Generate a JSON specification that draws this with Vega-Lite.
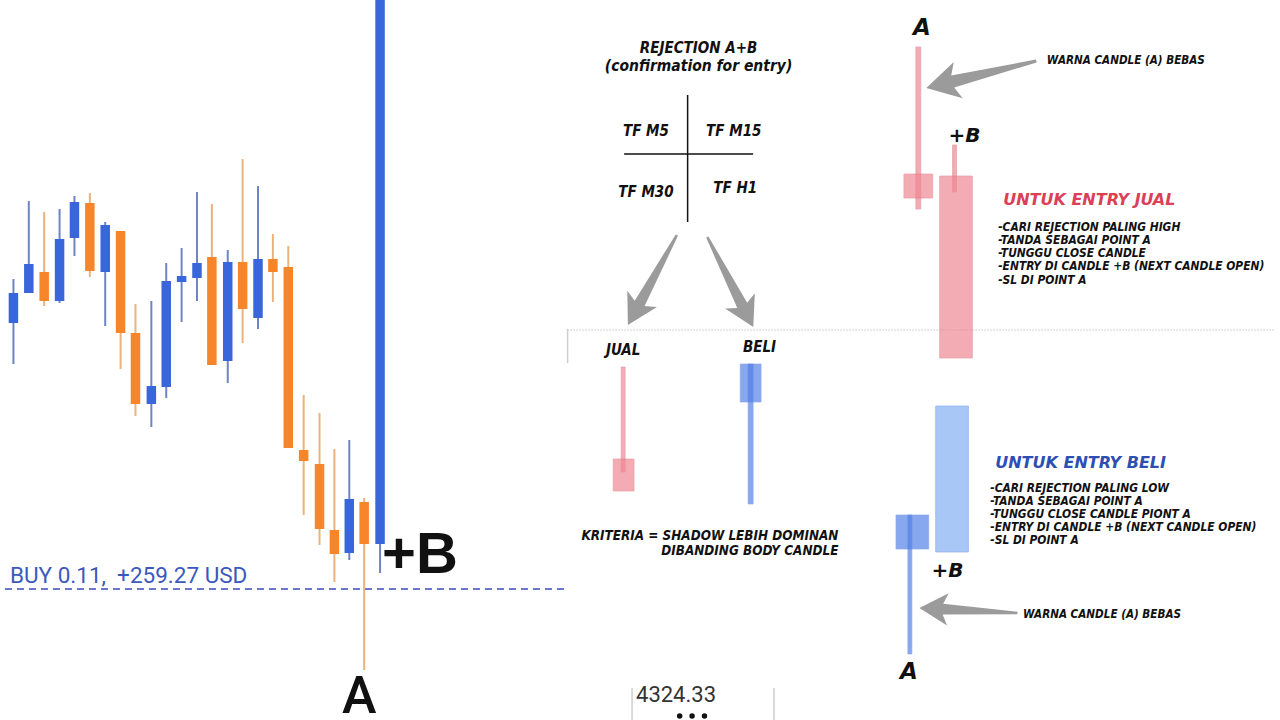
{
  "$schema": "https://vega.github.io/schema/vega-lite/v6.json",
  "width": 1280,
  "height": 720,
  "autosize": "none",
  "padding": 0,
  "background": "white",
  "config": {"view": {"stroke": null}},
  "datasets": {
    "candles": [
      {"i": 1, "x": 8.5, "o": 323, "c": 293, "h": 279, "l": 364, "dir": "up"},
      {"i": 2, "x": 24, "o": 293, "c": 264, "h": 201, "l": 293, "dir": "up"},
      {"i": 3, "x": 39.5, "o": 272, "c": 301, "h": 212, "l": 306, "dir": "down"},
      {"i": 4, "x": 55, "o": 301, "c": 239, "h": 209, "l": 303, "dir": "up"},
      {"i": 5, "x": 70, "o": 238, "c": 202, "h": 196, "l": 256, "dir": "up"},
      {"i": 6, "x": 85.5, "o": 203, "c": 271, "h": 193, "l": 277, "dir": "down"},
      {"i": 7, "x": 101, "o": 272, "c": 225, "h": 222, "l": 326, "dir": "up"},
      {"i": 8, "x": 116.5, "o": 231, "c": 333, "h": 231, "l": 369, "dir": "down"},
      {"i": 9, "x": 131.5, "o": 333, "c": 404, "h": 304, "l": 416, "dir": "down"},
      {"i": 10, "x": 147.5, "o": 404, "c": 386, "h": 301, "l": 427, "dir": "up"},
      {"i": 11, "x": 162.5, "o": 387, "c": 281, "h": 263, "l": 398, "dir": "up"},
      {"i": 12, "x": 178, "o": 282, "c": 276, "h": 248, "l": 322, "dir": "up"},
      {"i": 13, "x": 193.5, "o": 278, "c": 263, "h": 192, "l": 301, "dir": "up"},
      {"i": 14, "x": 208.5, "o": 257, "c": 365, "h": 204, "l": 365, "dir": "down"},
      {"i": 15, "x": 224.5, "o": 361, "c": 262, "h": 250, "l": 383, "dir": "up"},
      {"i": 16, "x": 239.5, "o": 262, "c": 309, "h": 159, "l": 343, "dir": "down"},
      {"i": 17, "x": 255, "o": 318, "c": 259, "h": 186, "l": 329, "dir": "up"},
      {"i": 18, "x": 270, "o": 259, "c": 272, "h": 234, "l": 302, "dir": "down"},
      {"i": 19, "x": 285.5, "o": 267, "c": 448, "h": 246, "l": 448, "dir": "down"},
      {"i": 20, "x": 301, "o": 450, "c": 461, "h": 395, "l": 515, "dir": "down"},
      {"i": 21, "x": 317, "o": 464, "c": 529, "h": 413, "l": 545, "dir": "down"},
      {"i": 22, "x": 332, "o": 530, "c": 554, "h": 449, "l": 582, "dir": "down"},
      {"i": 23, "x": 347, "o": 553, "c": 499, "h": 440, "l": 560, "dir": "up"},
      {"i": 24, "x": 362, "o": 502, "c": 544, "h": 498, "l": 670, "dir": "down"},
      {"i": 25, "x": 378, "o": 544, "c": -5, "h": -5, "l": 573, "dir": "up"}
    ],
    "boxes": [
      {"part": "A jual wick", "kind": "pink", "x": 918, "x2": 923, "y": 47, "y2": 209},
      {"part": "A jual body", "kind": "pink", "x": 906, "x2": 935, "y": 174, "y2": 198},
      {"part": "B jual wick", "kind": "pink", "x": 955, "x2": 959, "y": 145, "y2": 192},
      {"part": "B jual body", "kind": "pink", "x": 942, "x2": 975, "y": 176, "y2": 358},
      {"part": "JUAL wick", "kind": "pink", "x": 621, "x2": 625, "y": 367, "y2": 472},
      {"part": "JUAL body", "kind": "pink", "x": 613, "x2": 634, "y": 459, "y2": 491},
      {"part": "BELI body", "kind": "blue", "x": 741, "x2": 762, "y": 364, "y2": 402},
      {"part": "BELI wick", "kind": "blue", "x": 749, "x2": 754, "y": 364, "y2": 504},
      {"part": "B beli body", "kind": "light", "x": 938, "x2": 971, "y": 406, "y2": 552},
      {"part": "A beli body", "kind": "blue", "x": 898, "x2": 931, "y": 515, "y2": 549},
      {"part": "A beli wick", "kind": "blue", "x": 910, "x2": 914, "y": 515, "y2": 654}
    ],
    "arrows": [
      {"a": "to JUAL", "x1": 677, "y1": 235, "x2": 628, "y2": 325},
      {"a": "to BELI", "x1": 708, "y1": 237, "x2": 754, "y2": 327},
      {"a": "warna top", "x1": 1039, "y1": 61, "x2": 929, "y2": 88},
      {"a": "warna bottom", "x1": 1020, "y1": 613, "x2": 922, "y2": 608}
    ],
    "lines": [
      {"l": "cross v", "kind": "black", "x": 688, "x2": 688, "y": 95, "y2": 222},
      {"l": "cross h", "kind": "black", "x": 624, "x2": 754, "y": 154, "y2": 154},
      {"l": "sep v", "kind": "grey", "x": 567, "x2": 567, "y": 329, "y2": 363},
      {"l": "bottom a", "kind": "grey", "x": 632, "x2": 632, "y": 688, "y2": 720},
      {"l": "bottom b", "kind": "grey", "x": 775, "x2": 775, "y": 688, "y2": 720}
    ]
  },
  "layer": [
    {
      "data": {"values": [{"x": 0, "x2": 567, "y": 589}]},
      "mark": {"type": "rule", "color": "#3a4cc2", "strokeWidth": 1.6, "strokeDash": [7, 5]},
      "encoding": {
        "x": {"field": "x", "type": "quantitative", "axis": null, "scale": {"domain": [0, 1280], "nice": false, "zero": false}},
        "x2": {"field": "x2"},
        "y": {"field": "y", "type": "quantitative", "axis": null, "scale": {"domain": [0, 720], "reverse": true, "nice": false, "zero": false}}
      }
    },
    {
      "data": {"values": [{"x": 567, "x2": 1280, "y": 330}]},
      "mark": {"type": "rule", "color": "#a8a8a8", "strokeWidth": 1, "strokeDash": [1, 2]},
      "encoding": {
        "x": {"field": "x", "type": "quantitative", "axis": null},
        "x2": {"field": "x2"},
        "y": {"field": "y", "type": "quantitative", "axis": null}
      }
    },
    {
      "data": {"name": "lines"},
      "mark": {"type": "rule", "strokeWidth": 1.5},
      "encoding": {
        "x": {"field": "x", "type": "quantitative", "axis": null},
        "x2": {"field": "x2"},
        "y": {"field": "y", "type": "quantitative", "axis": null},
        "y2": {"field": "y2"},
        "color": {"condition": {"test": "datum.kind === 'black'", "value": "#111111"}, "value": "#cfcfcf"}
      }
    },
    {
      "data": {"name": "candles"},
      "mark": {"type": "rule", "strokeWidth": 2, "clip": true},
      "encoding": {
        "x": {"field": "x", "type": "quantitative", "axis": null},
        "y": {"field": "h", "type": "quantitative", "axis": null},
        "y2": {"field": "l"},
        "color": {"condition": {"test": "datum.dir === 'up'", "value": "#6f84c4"}, "value": "#ebb27c"}
      }
    },
    {
      "data": {"name": "candles"},
      "mark": {"type": "bar", "width": 9.5, "clip": true},
      "encoding": {
        "x": {"field": "x", "type": "quantitative", "axis": null},
        "y": {"field": "o", "type": "quantitative", "axis": null},
        "y2": {"field": "c"},
        "color": {"condition": {"test": "datum.dir === 'up'", "value": "#3a66db"}, "value": "#f7862a"}
      }
    },
    {
      "data": {"name": "boxes"},
      "mark": {"type": "rect", "strokeWidth": 0.7},
      "encoding": {
        "x": {"field": "x", "type": "quantitative", "axis": null},
        "x2": {"field": "x2"},
        "y": {"field": "y", "type": "quantitative", "axis": null},
        "y2": {"field": "y2"},
        "fill": {"condition": [{"test": "datum.kind === 'pink'", "value": "#ef8591"}, {"test": "datum.kind === 'blue'", "value": "#4f7ee6"}], "value": "#a8c6f6"},
        "stroke": {"condition": [{"test": "datum.kind === 'pink'", "value": "#e07080"}, {"test": "datum.kind === 'blue'", "value": "#5a82e0"}], "value": "#8fb0ee"},
        "opacity": {"condition": {"test": "datum.kind === 'light'", "value": 1}, "value": 0.68}
      }
    },
    {
      "data": {"name": "arrows"},
      "transform": [
        {"calculate": "(datum.x1 + datum.x2) / 2", "as": "mx"},
        {"calculate": "(datum.y1 + datum.y2) / 2", "as": "my"},
        {"calculate": "atan2(datum.y2 - datum.y1, datum.x2 - datum.x1) * 180 / PI", "as": "ang"},
        {"calculate": "pow(datum.x2 - datum.x1, 2) + pow(datum.y2 - datum.y1, 2)", "as": "sz"}
      ],
      "mark": {"type": "point", "shape": "M -1 -0.025 L 0.52 -0.11 L 0.42 -0.33 L 1 0 L 0.42 0.33 L 0.52 0.11 L -1 0.025 Z", "filled": true, "color": "#9b9b9b", "opacity": 1, "strokeWidth": 0},
      "encoding": {
        "x": {"field": "mx", "type": "quantitative", "axis": null},
        "y": {"field": "my", "type": "quantitative", "axis": null},
        "angle": {"field": "ang", "type": "quantitative", "scale": null},
        "size": {"field": "sz", "type": "quantitative", "scale": null, "legend": null}
      }
    },
    {
      "data": {"values": [{"d": 1, "x": 680, "y": 716}, {"d": 2, "x": 692.5, "y": 716}, {"d": 3, "x": 705, "y": 716}]},
      "mark": {"type": "point", "shape": "circle", "filled": true, "color": "#111111", "opacity": 1, "size": 30},
      "encoding": {
        "x": {"field": "x", "type": "quantitative", "axis": null},
        "y": {"field": "y", "type": "quantitative", "axis": null}
      }
    },
    {
      "data": {"values": [{"t": "BUY 0.11,\u00a0 +259.27 USD", "x": 5, "y": 583}]},
      "mark": {"type": "text", "font": "Roboto", "fontSize": 22.5, "color": "#3b58bd", "align": "left", "baseline": "alphabetic"},
      "encoding": {
        "x": {"field": "x", "type": "quantitative", "axis": null},
        "y": {"field": "y", "type": "quantitative", "axis": null},
        "text": {"field": "t"}
      }
    },
    {
      "data": {"values": [{"t": "+B", "x": 380, "y": 573}]},
      "mark": {"type": "text", "font": "Liberation Sans", "fontWeight": "bold", "fontSize": 58, "color": "#111111", "align": "left", "baseline": "alphabetic"},
      "encoding": {
        "x": {"field": "x", "type": "quantitative", "axis": null},
        "y": {"field": "y", "type": "quantitative", "axis": null},
        "text": {"field": "t"}
      }
    },
    {
      "data": {"values": [{"t": "A", "x": 357, "y": 713}]},
      "mark": {"type": "text", "font": "Roboto", "fontWeight": 500, "fontSize": 52, "color": "#111111", "align": "center", "baseline": "alphabetic"},
      "encoding": {
        "x": {"field": "x", "type": "quantitative", "axis": null},
        "y": {"field": "y", "type": "quantitative", "axis": null},
        "text": {"field": "t"}
      }
    },
    {
      "data": {"values": [
        {"t": "REJECTION A+B", "x": 699, "y": 53},
        {"t": "TF M5", "x": 646, "y": 136},
        {"t": "TF M15", "x": 734.5, "y": 136},
        {"t": "TF M30", "x": 646, "y": 197},
        {"t": "TF H1", "x": 736, "y": 193},
        {"t": "JUAL", "x": 623, "y": 355},
        {"t": "BELI", "x": 760.5, "y": 352}
      ]},
      "mark": {"type": "text", "font": "DejaVu Sans Condensed", "fontWeight": "bold", "fontStyle": "italic", "fontSize": 15, "color": "#111111", "align": "center", "baseline": "alphabetic"},
      "encoding": {
        "x": {"field": "x", "type": "quantitative", "axis": null},
        "y": {"field": "y", "type": "quantitative", "axis": null},
        "text": {"field": "t"}
      }
    },
    {
      "data": {"values": [{"t": "(confirmation for entry)", "x": 699, "y": 71}]},
      "mark": {"type": "text", "font": "DejaVu Sans Condensed", "fontWeight": "bold", "fontStyle": "italic", "fontSize": 15.5, "color": "#111111", "align": "center", "baseline": "alphabetic"},
      "encoding": {
        "x": {"field": "x", "type": "quantitative", "axis": null},
        "y": {"field": "y", "type": "quantitative", "axis": null},
        "text": {"field": "t"}
      }
    },
    {
      "data": {"values": [
        {"t": "A", "x": 924, "y": 35},
        {"t": "A", "x": 911, "y": 679}
      ]},
      "mark": {"type": "text", "font": "DejaVu Sans", "fontWeight": "bold", "fontStyle": "italic", "fontSize": 23, "color": "#111111", "align": "center", "baseline": "alphabetic"},
      "encoding": {
        "x": {"field": "x", "type": "quantitative", "axis": null},
        "y": {"field": "y", "type": "quantitative", "axis": null},
        "text": {"field": "t"}
      }
    },
    {
      "data": {"values": [
        {"t": "+B", "x": 967, "y": 142},
        {"t": "+B", "x": 950, "y": 577}
      ]},
      "mark": {"type": "text", "font": "DejaVu Sans", "fontWeight": "bold", "fontStyle": "italic", "fontSize": 20, "color": "#111111", "align": "center", "baseline": "alphabetic"},
      "encoding": {
        "x": {"field": "x", "type": "quantitative", "axis": null},
        "y": {"field": "y", "type": "quantitative", "axis": null},
        "text": {"field": "t"}
      }
    },
    {
      "data": {"values": [
        {"t": "UNTUK ENTRY JUAL", "side": "jual", "x": 1006, "y": 205},
        {"t": "UNTUK ENTRY BELI", "side": "beli", "x": 998, "y": 468}
      ]},
      "mark": {"type": "text", "font": "DejaVu Sans", "fontWeight": "bold", "fontStyle": "italic", "fontSize": 16, "align": "left", "baseline": "alphabetic"},
      "encoding": {
        "x": {"field": "x", "type": "quantitative", "axis": null},
        "y": {"field": "y", "type": "quantitative", "axis": null},
        "text": {"field": "t"},
        "color": {"condition": {"test": "datum.side === 'jual'", "value": "#dc3f56"}, "value": "#2d4fb3"}
      }
    },
    {
      "data": {"values": [
        {"t": "-CARI REJECTION PALING HIGH", "x": 1001, "y": 231},
        {"t": "-TANDA SEBAGAI POINT A", "x": 1001, "y": 244},
        {"t": "-TUNGGU CLOSE CANDLE", "x": 1001, "y": 257},
        {"t": "-ENTRY DI CANDLE +B (NEXT CANDLE OPEN)", "x": 1001, "y": 270},
        {"t": "-SL DI POINT A", "x": 1001, "y": 284},
        {"t": "-CARI REJECTION PALING LOW", "x": 993, "y": 492},
        {"t": "-TANDA SEBAGAI POINT A", "x": 993, "y": 505},
        {"t": "-TUNGGU CLOSE CANDLE PIONT A", "x": 993, "y": 518},
        {"t": "-ENTRY DI CANDLE +B (NEXT CANDLE OPEN)", "x": 993, "y": 531},
        {"t": "-SL DI POINT A", "x": 993, "y": 544}
      ]},
      "mark": {"type": "text", "font": "DejaVu Sans Condensed", "fontWeight": "bold", "fontStyle": "italic", "fontSize": 11.9, "color": "#111111", "align": "left", "baseline": "alphabetic"},
      "encoding": {
        "x": {"field": "x", "type": "quantitative", "axis": null},
        "y": {"field": "y", "type": "quantitative", "axis": null},
        "text": {"field": "t"}
      }
    },
    {
      "data": {"values": [
        {"t": "WARNA CANDLE (A) BEBAS", "x": 1050, "y": 64},
        {"t": "WARNA CANDLE (A) BEBAS", "x": 1026, "y": 618}
      ]},
      "mark": {"type": "text", "font": "DejaVu Sans Condensed", "fontWeight": "bold", "fontStyle": "italic", "fontSize": 11.6, "color": "#111111", "align": "left", "baseline": "alphabetic"},
      "encoding": {
        "x": {"field": "x", "type": "quantitative", "axis": null},
        "y": {"field": "y", "type": "quantitative", "axis": null},
        "text": {"field": "t"}
      }
    },
    {
      "data": {"values": [
        {"t": "KRITERIA = SHADOW LEBIH DOMINAN", "x": 840, "y": 540},
        {"t": "DIBANDING BODY CANDLE", "x": 840, "y": 555}
      ]},
      "mark": {"type": "text", "font": "DejaVu Sans Condensed", "fontWeight": "bold", "fontStyle": "italic", "fontSize": 13.4, "color": "#111111", "align": "right", "baseline": "alphabetic"},
      "encoding": {
        "x": {"field": "x", "type": "quantitative", "axis": null},
        "y": {"field": "y", "type": "quantitative", "axis": null},
        "text": {"field": "t"}
      }
    },
    {
      "data": {"values": [{"t": "4324.33", "x": 636, "y": 702}]},
      "mark": {"type": "text", "font": "Roboto", "fontSize": 22, "color": "#333333", "align": "left", "baseline": "alphabetic"},
      "encoding": {
        "x": {"field": "x", "type": "quantitative", "axis": null},
        "y": {"field": "y", "type": "quantitative", "axis": null},
        "text": {"field": "t"}
      }
    }
  ]
}
